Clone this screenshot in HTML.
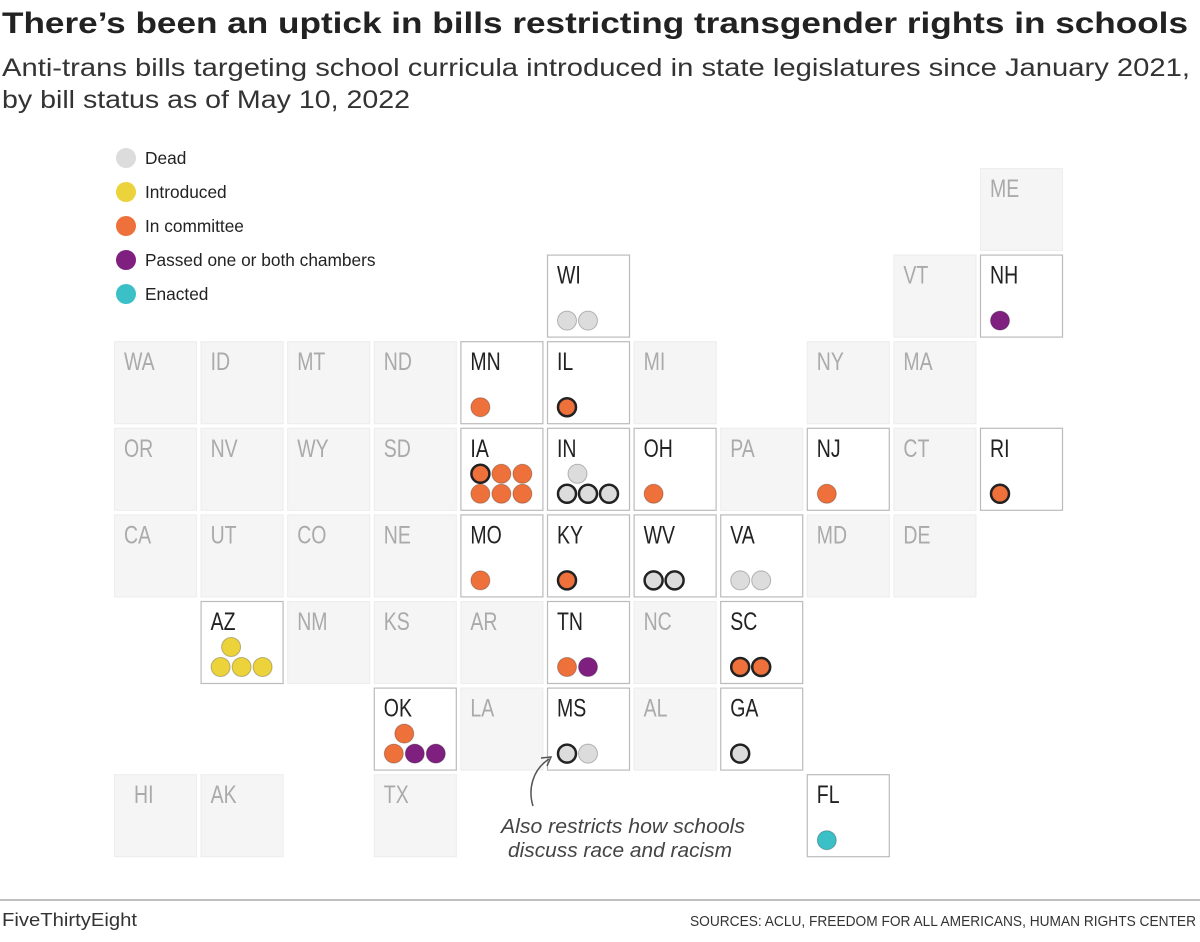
<!DOCTYPE html>
<html><head><meta charset="utf-8"><style>
body{margin:0;background:#fff;width:1200px;height:942px;overflow:hidden;font-family:"Liberation Sans",sans-serif}
svg{display:block}
</style></head><body>
<svg width="1200" height="942" xmlns="http://www.w3.org/2000/svg">
<text x="2" y="33" font-size="30" font-weight="bold" fill="#222" textLength="1186" lengthAdjust="spacingAndGlyphs">There’s been an uptick in bills restricting transgender rights in schools</text>
<text x="2" y="76" font-size="25" fill="#333" textLength="1188" lengthAdjust="spacingAndGlyphs">Anti-trans bills targeting school curricula introduced in state legislatures since January 2021,</text>
<text x="2" y="108" font-size="25" fill="#333" textLength="408" lengthAdjust="spacingAndGlyphs">by bill status as of May 10, 2022</text>
<g id="legend"></g>
<g id="tiles"></g>
<path d="M533,806 C528,790 532,770 549,759" fill="none" stroke="#555" stroke-width="1.5"/>
<path d="M541,758 L551,757 L547,766" fill="none" stroke="#555" stroke-width="1.5"/>
<text x="501" y="833" font-size="20" font-style="italic" fill="#444" textLength="244" lengthAdjust="spacingAndGlyphs">Also restricts how schools</text>
<text x="508" y="857" font-size="20" font-style="italic" fill="#444" textLength="224" lengthAdjust="spacingAndGlyphs">discuss race and racism</text>
<line x1="0" y1="900" x2="1200" y2="900" stroke="#aaa" stroke-width="1.5"/>
<text x="2" y="926" font-size="18" fill="#333" textLength="135" lengthAdjust="spacingAndGlyphs">FiveThirtyEight</text>
<text x="690" y="926" font-size="15" fill="#333" textLength="506" lengthAdjust="spacingAndGlyphs">SOURCES: ACLU, FREEDOM FOR ALL AMERICANS, HUMAN RIGHTS CENTER</text>
</svg>
<script>
const statusNames=["Dead","Introduced","In committee","Passed one or both chambers","Enacted"];
const statusColors={dead:"#dcdcdc",intro:"#ecd33c",comm:"#ee703a",pass:"#7f1f80",enact:"#3cc0c8"};
const statusKeys=["dead","intro","comm","pass","enact"];
const states=["ME","WI","VT","NH","WA","ID","MT","ND","MN","IL","MI","NY","MA","OR","NV","WY","SD","IA","IN","OH","PA","NJ","CT","RI","CA","UT","CO","NE","MO","KY","WV","VA","MD","DE","AZ","NM","KS","AR","TN","NC","SC","OK","LA","MS","AL","GA","HI","AK","TX","FL"];
const cols=[10,5,9,10,0,1,2,3,4,5,6,8,9,0,1,2,3,4,5,6,7,8,9,10,0,1,2,3,4,5,6,7,8,9,1,2,3,4,5,6,7,3,4,5,6,7,0,1,3,8];
const rows=[0,1,1,1,2,2,2,2,2,2,2,2,2,3,3,3,3,3,3,3,3,3,3,3,4,4,4,4,4,4,4,4,4,4,5,5,5,5,5,5,5,6,6,6,6,6,7,7,7,7];
const bills={WI:["dead","dead"],NH:["pass"],MN:["comm"],IL:["comm*"],IA:["comm*","comm","comm","comm","comm","comm"],IN:["dead","dead*","dead*","dead*"],OH:["comm"],NJ:["comm"],RI:["comm*"],MO:["comm"],KY:["comm*"],WV:["dead*","dead*"],VA:["dead","dead"],AZ:["intro","intro","intro","intro"],TN:["comm","pass"],SC:["comm*","comm*"],OK:["comm","comm","pass","pass"],MS:["dead*","dead"],GA:["dead*"],FL:["enact"]};
const NS="http://www.w3.org/2000/svg";
function mk(t,a,p){const e=document.createElementNS(NS,t);for(const k in a)e.setAttribute(k,a[k]);p.appendChild(e);return e;}
function xPos(c){return 114+c*86.6;}
function yPos(r){return 168+r*86.6;}
const lg=document.getElementById('legend');
statusKeys.forEach((k,i)=>{
  const y=158+i*34;
  const c=mk('circle',{cx:126,cy:y,r:10,fill:statusColors[k]},lg);
  
  
  const t=mk('text',{x:145,y:y+6,'font-size':17.3,fill:'#222'},lg);
  t.textContent=statusNames[i];
  
  
});
const tg=document.getElementById('tiles');
states.forEach((s,i)=>{
  const x=xPos(cols[i]),y=yPos(rows[i]);
  const b=bills[s];
  const g=mk('g',{},tg);
  
  
  mk('rect',{x:x+0.5,y:y+0.5,width:82,height:82,fill:b?'#fff':'#f5f5f5',stroke:b?'#bbb':'#eee','stroke-width':1.2},g);
  const t=mk('text',{transform:'translate('+(x+(s==='HI'?20:10))+','+(y+29)+') scale(0.78,1)','font-size':25,fill:b?'#222':'#aaa'},g);
  t.textContent=s;
  if(!b)return;
  const n=b.length;
  let pos=[];
  if(n<=3){for(let j=0;j<n;j++)pos.push([20+j*21,66]);}
  else if(n===4){pos=[[30.5,46],[20,66],[41,66],[62,66]];}
  else{for(let j=0;j<n;j++)pos.push([20+(j%3)*21,j<3?46:66]);}
  b.forEach((v,j)=>{
    const out=v.endsWith('*');const k=v.replace('*','');
    const c=mk('circle',{cx:x+pos[j][0],cy:y+pos[j][1],r:out?9:9.5,fill:statusColors[k],stroke:out?'#222':'rgba(0,0,0,0.25)','stroke-width':out?2.5:1},g);
    
    
  });
});
</script>
</body></html>
